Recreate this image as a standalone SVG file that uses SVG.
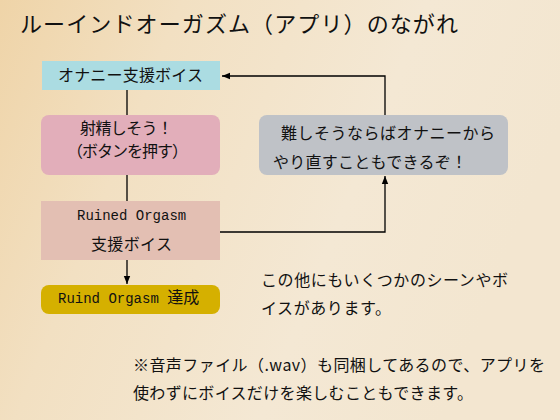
<svg xmlns="http://www.w3.org/2000/svg" width="560" height="420" viewBox="0 0 560 420">
<defs>
<linearGradient id="bg" x1="0" y1="0" x2="1" y2="0.3">
<stop offset="0" stop-color="#efd4a8"/>
<stop offset="0.3" stop-color="#f2e0c2"/>
<stop offset="0.7" stop-color="#f4e8d4"/>
<stop offset="1" stop-color="#f3e6d0"/>
</linearGradient>
<marker id="ah" viewBox="0 0 10 10" refX="10" refY="5" markerWidth="8" markerHeight="8" markerUnits="userSpaceOnUse" orient="auto">
<path d="M0,1 L10,5 L0,9 z" fill="#000"/>
</marker>
<style>
.t{font-family:"Noto Sans CJK JP","Noto Sans",sans-serif;font-size:16px;fill:#111;}
.m{font-family:"Liberation Mono","DejaVu Sans Mono",monospace;font-size:14px;fill:#111;}
.j{font-family:"Noto Sans CJK JP",sans-serif;font-size:16px;}
.c{stroke:#000;stroke-width:1.3;fill:none;}
</style>
</defs>
<rect x="0" y="0" width="560" height="420" fill="url(#bg)"/>
<text class="t" x="20" y="32" style="font-size:22px" textLength="438" lengthAdjust="spacing">ルーインドオーガズム（アプリ）のながれ</text>
<g id="connectors">
<line class="c" x1="127" y1="90" x2="127" y2="115"/>
<line class="c" x1="127" y1="174" x2="127" y2="201"/>
<line class="c" x1="127" y1="260" x2="127" y2="284" marker-end="url(#ah)"/>
<polyline class="c" points="220,232 385,232 385,176" marker-end="url(#ah)"/>
<polyline class="c" points="385,115 385,76 222,76" marker-end="url(#ah)"/>
</g>
<g id="n1">
<rect x="42" y="61" width="178" height="29" fill="#abdce2"/>
<text class="t" x="58" y="81" textLength="145" lengthAdjust="spacing">オナニー支援ボイス</text>
</g>
<g id="n2">
<rect x="41" y="115" width="179" height="60" rx="8" fill="#e2aeba"/>
<text class="t" x="80" y="134" textLength="93" lengthAdjust="spacing">射精しそう！</text>
<text class="t" x="67" y="157" textLength="121" lengthAdjust="spacing">（ボタンを押す）</text>
</g>
<g id="n3">
<rect x="259" y="115" width="249" height="60" rx="8" fill="#bfc2c7"/>
<text class="t" x="281" y="139" textLength="214" lengthAdjust="spacing">難しそうならばオナニーから</text>
<text class="t" x="273" y="168" textLength="194" lengthAdjust="spacing">やり直すこともできるぞ！</text>
</g>
<g id="n4">
<rect x="41" y="201" width="179" height="59" fill="#e3bfb3"/>
<text class="m" x="77" y="220">Ruined Orgasm</text>
<text class="t" x="91" y="250" textLength="81" lengthAdjust="spacing">支援ボイス</text>
</g>
<g id="n5">
<rect x="41" y="285" width="179" height="29" rx="8" fill="#d5b000"/>
<text class="m" x="58" y="303">Ruind Orgasm <tspan class="j">達成</tspan></text>
</g>
<text class="t" x="261" y="286" textLength="247" lengthAdjust="spacing">この他にもいくつかのシーンやボ</text>
<text class="t" x="261" y="314" textLength="130" lengthAdjust="spacing">イスがあります。</text>
<text class="t" x="133" y="371" textLength="412" lengthAdjust="spacing">※音声ファイル（.wav）も同梱してあるので、アプリを</text>
<text class="t" x="133" y="399" textLength="340" lengthAdjust="spacing">使わずにボイスだけを楽しむこともできます。</text>
</svg>
